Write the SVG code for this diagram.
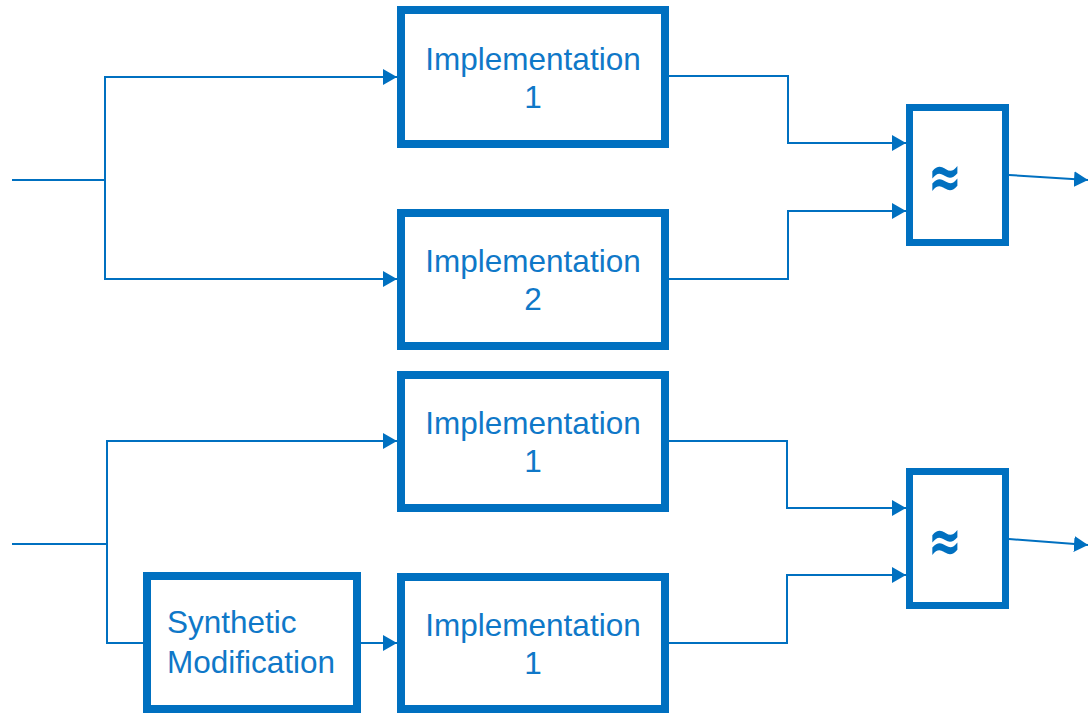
<svg xmlns="http://www.w3.org/2000/svg" width="1088" height="714" viewBox="0 0 1088 714">
<style>
.box{fill:#fff;stroke:#0070C0;stroke-width:8}
.cmp{fill:#fff;stroke:#0070C0;stroke-width:7}
.lbl{font-family:"Liberation Sans",Arial,sans-serif;font-size:31.5px;fill:#0F78C8;text-anchor:middle}
.lft{text-anchor:start}
.sym{font-family:"DejaVu Sans",sans-serif;font-weight:bold;font-size:40px;fill:#0070C0;text-anchor:middle}
.c{fill:none;stroke:#0070C0;stroke-width:2}
.a{marker-end:url(#ah)}
</style>
<defs>
<marker id="ah" markerUnits="userSpaceOnUse" markerWidth="14" markerHeight="16" refX="14" refY="8" orient="auto">
<path d="M0,0 L14,8 L0,16 z" fill="#0070C0"/>
</marker>
</defs>
<rect width="1088" height="714" fill="#fff"/>
<g id="connectors">
<path class="c" d="M12,180 H105"/>
<path class="c a" d="M105,180 V77 H397"/>
<path class="c a" d="M105,180 V279 H397"/>
<path class="c a" d="M669,76 H788 V143 H906"/>
<path class="c a" d="M669,279 H788 V211 H906"/>
<path class="c a" d="M1009,175 L1088,180"/>
<path class="c" d="M12,544 H107"/>
<path class="c a" d="M107,544 V441 H397"/>
<path class="c" d="M107,544 V643 H143"/>
<path class="c a" d="M361,643 H397"/>
<path class="c a" d="M669,441 H787 V508 H906"/>
<path class="c a" d="M669,643 H787 V575 H906"/>
<path class="c a" d="M1009,539 L1088,545"/>
</g>
<g id="impl1-top">
<rect class="box" x="401" y="10" width="264" height="134"/>
<text class="lbl" x="533" y="70">Implementation</text>
<text class="lbl" x="533" y="108">1</text>
</g>
<g id="impl2-top">
<rect class="box" x="401" y="213" width="264" height="133"/>
<text class="lbl" x="533" y="272">Implementation</text>
<text class="lbl" x="533" y="310">2</text>
</g>
<g id="approx-top">
<rect class="cmp" x="909.5" y="107.5" width="96" height="135"/>
<text class="sym" transform="translate(945,178.5) scale(1,1.55)" x="0" y="12.8">≈</text>
</g>
<g id="impl1-bottom">
<rect class="box" x="401" y="375" width="264" height="133"/>
<text class="lbl" x="533" y="434">Implementation</text>
<text class="lbl" x="533" y="472">1</text>
</g>
<g id="synthetic">
<rect class="box" x="147" y="576" width="210" height="133"/>
<text class="lbl lft" x="167" y="633">Synthetic</text>
<text class="lbl lft" x="167" y="673">Modification</text>
</g>
<g id="impl1-mod">
<rect class="box" x="401" y="577" width="264" height="132"/>
<text class="lbl" x="533" y="636">Implementation</text>
<text class="lbl" x="533" y="674">1</text>
</g>
<g id="approx-bottom">
<rect class="cmp" x="909.5" y="471.5" width="96" height="134"/>
<text class="sym" transform="translate(945,542.5) scale(1,1.55)" x="0" y="12.8">≈</text>
</g>
</svg>
